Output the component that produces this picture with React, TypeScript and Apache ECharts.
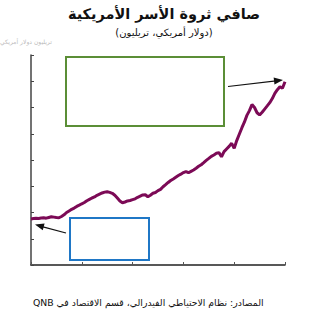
import React, { useEffect, useRef } from "react";
import * as echarts from "echarts";

const title = "صافي ثروة الأسر الأمريكية";
const subtitle = "(دولار أمريكي، تريليون)";
const source = "المصادر: نظام الاحتياطي الفيدرالي، قسم الاقتصاد في QNB";

const quarters: number[] = [
  2000.0, 2000.25, 2000.5, 2000.75, 2001.0, 2001.25, 2001.5, 2001.75,
  2002.0, 2002.25, 2002.5, 2002.75, 2003.0, 2003.25, 2003.5, 2003.75,
  2004.0, 2004.25, 2004.5, 2004.75, 2005.0, 2005.25, 2005.5, 2005.75,
  2006.0, 2006.25, 2006.5, 2006.75, 2007.0, 2007.25, 2007.5, 2007.75,
  2008.0, 2008.25, 2008.5, 2008.75, 2009.0, 2009.25, 2009.5, 2009.75,
  2010.0, 2010.25, 2010.5, 2010.75, 2011.0, 2011.25, 2011.5, 2011.75,
  2012.0, 2012.25, 2012.5, 2012.75, 2013.0, 2013.25, 2013.5, 2013.75,
  2014.0, 2014.25, 2014.5, 2014.75, 2015.0, 2015.25, 2015.5, 2015.75,
  2016.0, 2016.25, 2016.5, 2016.75, 2017.0, 2017.25, 2017.5, 2017.75,
  2018.0, 2018.25, 2018.5, 2018.75, 2019.0, 2019.25, 2019.5, 2019.75,
  2020.0, 2020.25, 2020.5, 2020.75, 2021.0, 2021.25, 2021.5, 2021.75,
  2022.0, 2022.25, 2022.5, 2022.75, 2023.0, 2023.25, 2023.5, 2023.75,
  2024.0, 2024.25, 2024.5, 2024.75, 2025.0,
];

const netWorth: number[] = [
  43.8, 44.2, 44.5, 44.3, 44.8, 45.0, 44.6, 45.3,
  46.0, 45.6, 45.2, 45.0, 46.2, 47.8, 50.0, 51.5,
  53.0, 54.2, 55.8, 57.0, 58.3, 59.5, 61.2, 62.5,
  63.8, 64.8, 66.4, 67.5, 68.6, 69.4, 69.8, 69.2,
  68.3, 66.5, 63.8, 61.0, 59.3, 60.0, 61.0, 61.4,
  62.2, 63.0, 64.5, 65.6, 66.7, 66.9, 65.0, 66.5,
  68.3, 69.0, 70.8, 72.0, 74.5, 76.5, 78.6, 80.5,
  82.0, 83.6, 85.2, 86.5, 88.0, 89.0, 87.9, 89.2,
  90.5, 92.2, 94.0, 95.5, 97.5, 99.6, 101.5, 103.5,
  104.8, 106.4, 107.0, 103.1, 108.0, 110.5, 113.0, 115.9,
  111.1, 118.5, 124.5, 130.5, 136.0, 142.5, 147.0, 152.8,
  150.0, 145.0, 142.9, 145.5, 148.5, 151.5, 154.6, 158.5,
  163.5, 167.0, 169.8, 168.3, 174.5,
];

const xTicks = { min: 2000, max: 2025, interval: 5 };
const yTicks = { min: 0, max: 200, interval: 25 };

const FONT = "DejaVu Sans";

function arrowHead(tipX: number, tipY: number, fromX: number, fromY: number, len: number, half: number) {
  const dx = tipX - fromX;
  const dy = tipY - fromY;
  const d = Math.sqrt(dx * dx + dy * dy);
  const ux = dx / d;
  const uy = dy / d;
  const bx = tipX - ux * len;
  const by = tipY - uy * len;
  return [
    [tipX, tipY],
    [bx - uy * half, by + ux * half],
    [bx + uy * half, by - ux * half],
  ];
}

export default function App() {
  const ref = useRef<HTMLDivElement>(null);
  useEffect(() => {
    if (!ref.current) return;
    const chart = echarts.init(ref.current, null, { renderer: "svg" });
    const data = quarters.map((q, i) => [q, netWorth[i]]);
    chart.setOption({
      animation: false,
      backgroundColor: "#ffffff",
      grid: { left: 31, right: 43, top: 55, bottom: 55 },
      xAxis: {
        type: "value",
        min: xTicks.min,
        max: xTicks.max,
        interval: xTicks.interval,
        axisLine: { show: true, lineStyle: { color: "#222", width: 1.5 } },
        axisTick: { show: true, inside: true, length: 3, lineStyle: { color: "#555" } },
        axisLabel: { show: false },
        splitLine: { show: false },
      },
      yAxis: {
        type: "value",
        min: yTicks.min,
        max: yTicks.max,
        interval: yTicks.interval,
        axisLine: { show: true, lineStyle: { color: "#444", width: 1.5 } },
        axisTick: { show: true, inside: true, length: 3, lineStyle: { color: "#444" } },
        axisLabel: { show: false },
        splitLine: { show: false },
      },
      series: [
        {
          type: "line",
          data,
          showSymbol: false,
          symbol: "none",
          lineStyle: { color: "#7c0a56", width: 3 },
        },
      ],
      graphic: [
        {
          type: "text",
          left: "center",
          top: 6,
          style: { text: title, font: `bold 14.5px "${FONT}"`, fill: "#111" },
          x: -15,
        },
        {
          type: "text",
          left: "center",
          top: 27,
          style: { text: subtitle, font: `10px "${FONT}"`, fill: "#111" },
          x: -15,
        },
        {
          type: "text",
          left: 0,
          top: 38,
          style: { text: "تريليون دولار أمريكي", font: `6px "${FONT}"`, fill: "#bbb" },
        },
        {
          type: "rect",
          shape: { x: 66, y: 57, width: 158, height: 69 },
          style: { fill: "none", stroke: "#5b8e36", lineWidth: 2 },
          z: 10,
        },
        {
          type: "rect",
          shape: { x: 70, y: 218, width: 79, height: 42 },
          style: { fill: "none", stroke: "#1f77c6", lineWidth: 2 },
          z: 10,
        },
        {
          type: "line",
          shape: { x1: 228, y1: 86.5, x2: 276, y2: 80.8 },
          style: { stroke: "#111", lineWidth: 1.2 },
          z: 10,
        },
        {
          type: "polygon",
          shape: { points: arrowHead(283, 80, 228, 86.5, 9, 3.5) },
          style: { fill: "#111" },
          z: 10,
        },
        {
          type: "line",
          shape: { x1: 66, y1: 233, x2: 43, y2: 226.8 },
          style: { stroke: "#111", lineWidth: 1.2 },
          z: 10,
        },
        {
          type: "polygon",
          shape: { points: arrowHead(35, 224.5, 66, 233, 9, 3.5) },
          style: { fill: "#111" },
          z: 10,
        },
        {
          type: "text",
          left: 33,
          top: 298,
          style: { text: "\u202B" + source + "\u202C", font: `9.3px "${FONT}"`, fill: "#111" },
        },
      ],
    });
    return () => chart.dispose();
  }, []);
  return (
    <div
      ref={ref}
      style={{ position: "fixed", left: 0, top: 0, width: 328, height: 320 }}
    />
  );
}
